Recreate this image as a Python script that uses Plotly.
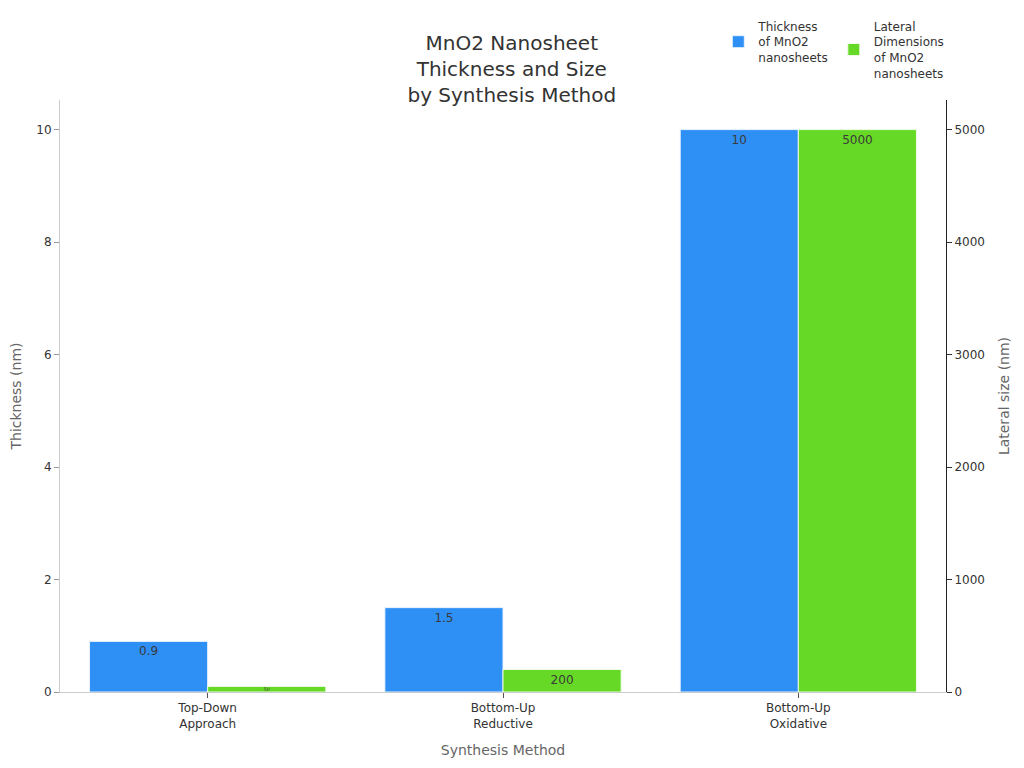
import plotly.graph_objects as go

methods = ["Top-Down<br>Approach", "Bottom-Up<br>Reductive", "Bottom-Up<br>Oxidative"]
thickness_nm = [0.9, 1.5, 10]
lateral_nm = [50, 200, 5000]

fig = go.Figure()
fig.add_trace(go.Bar(
    x=methods, y=thickness_nm, name="Thickness<br>of MnO2<br>nanosheets",
    marker=dict(color="#2E8FF5", line=dict(color="#E8F2FE", width=1)),
    text=thickness_nm, textposition="inside", insidetextanchor="end",
    textfont=dict(color="#3a3a3a", size=12),
    offsetgroup=1, yaxis="y",
))
fig.add_trace(go.Bar(
    x=methods, y=lateral_nm, name="Lateral<br>Dimensions<br>of MnO2<br>nanosheets",
    marker=dict(color="#66D926", line=dict(color="#EEFAE6", width=1)),
    text=lateral_nm, textposition="inside", insidetextanchor="end",
    textfont=dict(color="#3a3a3a", size=12),
    offsetgroup=2, yaxis="y2",
))

fig.update_layout(
    width=1024, height=768,
    font=dict(family="DejaVu Sans", color="#333333", size=12),
    title=dict(text="MnO2 Nanosheet<br>Thickness and Size<br>by Synthesis Method",
               x=0.492, xanchor="center", y=0.945, yanchor="top", font=dict(size=20)),
    plot_bgcolor="white", paper_bgcolor="white",
    barmode="group", bargap=0.2, bargroupgap=0,
    margin=dict(l=52, r=86, t=92, b=84, autoexpand=False),
    legend=dict(orientation="h", x=0.743, xanchor="left", y=1.149, yanchor="top",
                font=dict(size=12)),
    xaxis=dict(title=dict(text="Synthesis Method", font=dict(color="#666666", size=14)),
               showline=True, linecolor="#cccccc", ticks="outside", tickcolor="#555555",
               automargin=False),
    yaxis=dict(title=dict(text="Thickness (nm)", font=dict(color="#666666", size=14),
                          standoff=18),
               showgrid=False, showline=True, linecolor="#cccccc", ticks="outside",
               tickcolor="#999999", zeroline=False, automargin=False),
    yaxis2=dict(title=dict(text="Lateral size (nm)", font=dict(color="#666666", size=14)),
                overlaying="y", side="right", showgrid=False, showline=True,
                linecolor="#222222", ticks="outside", tickcolor="#333333",
                zeroline=False, automargin=False),
)

fig.write_html("out.html")
